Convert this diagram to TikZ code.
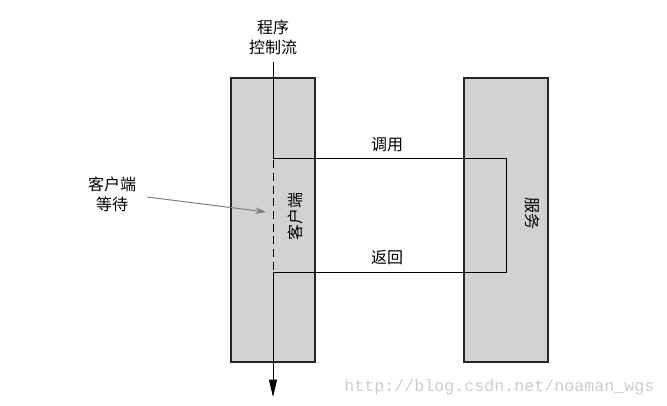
\documentclass[tikz,border=0pt]{standalone}
\usepackage{fontspec}
\setmainfont{Liberation Serif}
\newfontfamily\cjk{Noto Sans CJK SC}
\newfontfamily\wmfont{Liberation Mono}
\usetikzlibrary{arrows.meta}
\definecolor{barfill}{RGB}{210,210,210}
\definecolor{wmgray}{RGB}{205,205,205}
\tikzset{
  bar/.style={draw=black!85, fill=barfill, line width=0.8pt, minimum width=84*0.75pt, minimum height=284*0.75pt, inner sep=0pt},
  lbl/.style={font=\cjk\fontsize{12pt}{15pt}\selectfont, align=center, inner sep=1pt},
  flow/.style={line width=0.75pt, black},
  pointer/.style={draw=gray, line width=0.75pt, -{Stealth[length=8pt,width=5pt]}, gray}
}
\begin{document}
\begin{tikzpicture}[x=0.75pt,y=-0.75pt]
\useasboundingbox (0,0) rectangle (667,406);
\node[bar] (cbar) at (273,220) {};
\node[bar] (sbar) at (506,220) {};
% flow
\coordinate (top) at (273,62);
\coordinate (callL) at (273,159);
\coordinate (callR) at (506,159);
\coordinate (retR) at (506,272);
\coordinate (retL) at (273,272);
\coordinate (bot) at (273,397);
\draw[flow] (top) -- (callL) -- (callR) -- (retR) -- (retL);
\draw[flow, -{Triangle[length=13pt,width=6pt]}] (retL) -- (bot);
\draw[barfill, line width=1pt] (callL) -- (retL);
\draw[flow, dash pattern=on 6pt off 3.5pt] ([yshift=-1pt]callL) -- (retL);
% labels
\node[lbl] (prog) at (273,37) {程序\\控制流};
\node[lbl] (call) at (387,145) {调用};
\node[lbl] (ret) at (387,258) {返回};
\node[lbl, rotate=90] (client) at (295,216) {客户端};
\node[lbl, rotate=-90] (service) at (533,213) {服务};
\node[lbl] (wait) at (112,194) {客户端\\等待};
\draw[pointer] (147,197) -- (266,212);
\node[font=\wmfont\fontsize{12.5pt}{14pt}\selectfont, text=wmgray, anchor=west, inner sep=0pt] (wm) at (344,387) {http://blog.csdn.net/noaman\_wgs};
\end{tikzpicture}
\end{document}
